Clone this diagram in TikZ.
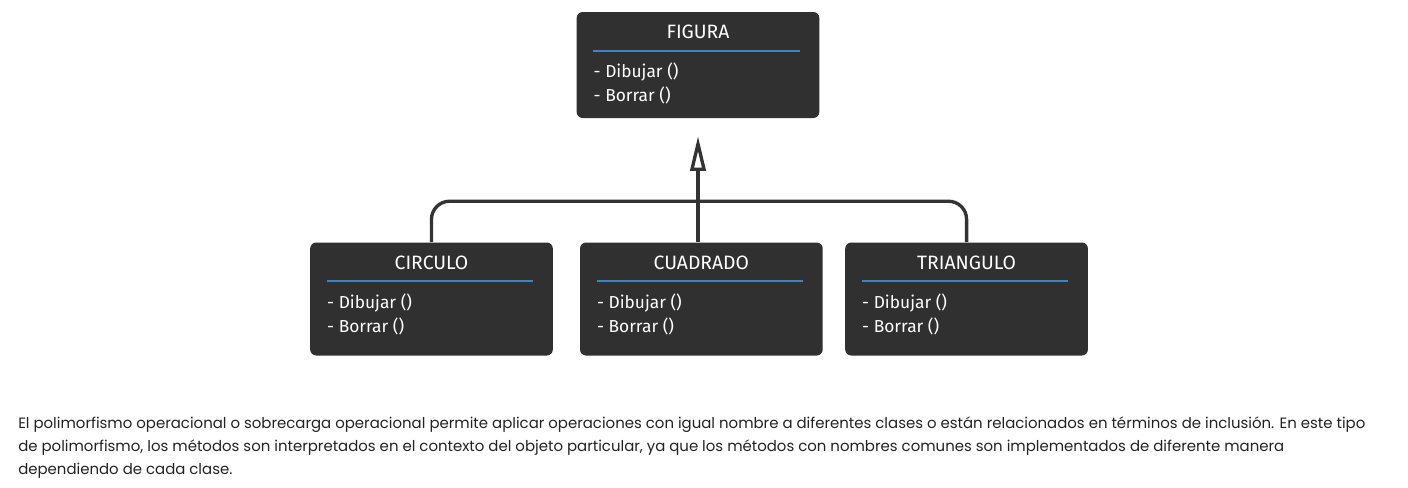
\documentclass[tikz,border=0pt]{standalone}
\usepackage{fontspec}
\setmainfont{Poppins}
\newfontfamily\cajafont{Fira Sans}
\usetikzlibrary{positioning, calc, arrows.meta}
\definecolor{cajagris}{HTML}{303030}
\definecolor{lineagris}{HTML}{333333}
\definecolor{reglaazul}{HTML}{3F84BE}
\definecolor{textogris}{HTML}{222222}
\tikzstyle{clase} = [rectangle, rounded corners=4.5pt, minimum width=182pt, minimum height=84.75pt, fill=cajagris, draw=none, inner sep=0pt]
\tikzstyle{titulo} = [inner sep=0pt, text=white, font=\cajafont\fontsize{14.5}{16}\selectfont, anchor=base]
\tikzstyle{metodo} = [inner sep=0pt, text=white, font=\cajafont\fontsize{13}{15}\selectfont, anchor=base west]
\tikzstyle{regla} = [draw=reglaazul, line width=1.5pt]
\tikzstyle{linea} = [draw=lineagris, line width=2.5pt]
\tikzstyle{herencia} = [linea, -{Triangle[open, length=26pt, width=11.5pt]}, shorten >=13.5pt]

\begin{document}
\begin{tikzpicture}[x=0.75pt, y=-0.75pt]
\useasboundingbox (0,0) rectangle (1408,487);

%% NODES

\node (figura) [clase, minimum height=79.5pt] at (698,65) {};
\node (figura_t) [titulo] at ($(figura.north)+(0,27)$) {FIGURA};
\node (figura_m1) [metodo] at ($(figura.north west)+(17,66)$) {- Dibujar ()};
\node (figura_m2) [metodo] at ($(figura.north west)+(17,90)$) {- Borrar ()};

\node (circulo) [clase] at (431.5,299) {};
\node (circulo_t) [titulo] at ($(circulo.north)+(0,27)$) {CIRCULO};
\node (circulo_m1) [metodo] at ($(circulo.north west)+(17,66)$) {- Dibujar ()};
\node (circulo_m2) [metodo] at ($(circulo.north west)+(17,90)$) {- Borrar ()};

\node (cuadrado) [clase, right=20pt of circulo] {};
\node (cuadrado_t) [titulo] at ($(cuadrado.north)+(0,27)$) {CUADRADO};
\node (cuadrado_m1) [metodo] at ($(cuadrado.north west)+(17,66)$) {- Dibujar ()};
\node (cuadrado_m2) [metodo] at ($(cuadrado.north west)+(17,90)$) {- Borrar ()};

\node (triangulo) [clase, right=16.5pt of cuadrado] {};
\node (triangulo_t) [titulo] at ($(triangulo.north)+(0,27)$) {TRIANGULO};
\node (triangulo_m1) [metodo] at ($(triangulo.north west)+(17,66)$) {- Dibujar ()};
\node (triangulo_m2) [metodo] at ($(triangulo.north west)+(17,90)$) {- Borrar ()};

\node (texto) [anchor=base west, inner sep=0pt, align=left, text=textogris, font=\fontsize{11.2}{16.9}\selectfont] at (18,474)
{El polimorfismo operacional o sobrecarga operacional permite aplicar operaciones con igual nombre a diferentes clases o están relacionados en términos de inclusión. En este tipo\\
de polimorfismo, los métodos son interpretados en el contexto del objeto particular, ya que los métodos con nombres comunes son implementados de diferente manera\\
dependiendo de cada clase.};

%% RULES

\draw [regla] ($(figura.north west)+(17,39)$) -- ($(figura.north east)+(-20,39)$);
\draw [regla] ($(circulo.north west)+(17,39)$) -- ($(circulo.north east)+(-20,39)$);
\draw [regla] ($(cuadrado.north west)+(17,39)$) -- ($(cuadrado.north east)+(-20,39)$);
\draw [regla] ($(triangulo.north west)+(17,39)$) -- ($(triangulo.north east)+(-20,39)$);

%% ARROWS

\draw [linea, rounded corners=13.5pt] (circulo.north) -- ++(0,-41) -| (triangulo.north);
\draw [herencia] (figura.south |- cuadrado.north) -- (figura.south);

\end{tikzpicture}
\end{document}
